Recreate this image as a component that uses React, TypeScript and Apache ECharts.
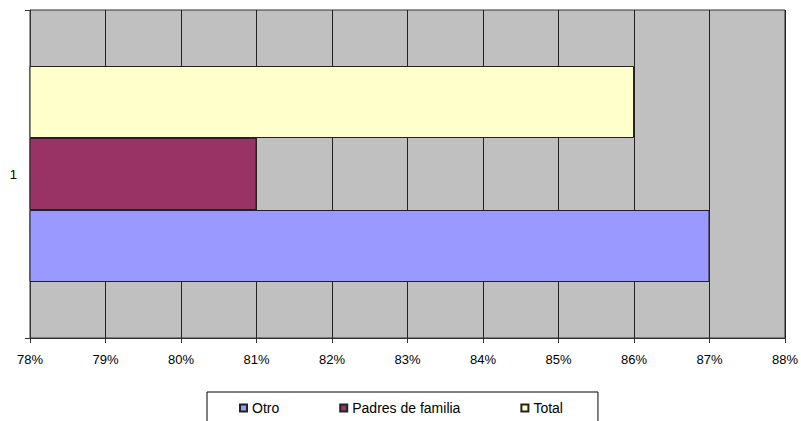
import React, { useEffect, useRef } from "react";
import * as echarts from "echarts";

const categories = ["1"];
const seriesNames = ["Otro", "Padres de familia", "Total"];
const otroValues = [87];
const padresValues = [81];
const totalValues = [86];
const colors = ["#9999FF", "#993366", "#FFFFCC"];
const xMin = 78;
const xMax = 88;

export default function App() {
  const ref = useRef<HTMLDivElement>(null);
  useEffect(() => {
    if (!ref.current) return;
    const chart = echarts.init(ref.current, null, { renderer: "svg" });
    const font = "'Liberation Sans', Arial, sans-serif";
    const dataSets = [otroValues, padresValues, totalValues];
    const series = seriesNames.map((name, i) => ({
      name,
      type: "bar",
      data: dataSets[i],
      barWidth: 72,
      barGap: "0%",
      itemStyle: { color: colors[i], borderColor: "#222", borderWidth: 1 },
    }));
    chart.setOption({
      animation: false,
      grid: {
        left: 30,
        right: 15,
        top: 10,
        bottom: 83,
        show: true,
        backgroundColor: "#C0C0C0",
        borderColor: "#333",
        borderWidth: 1,
      },
      xAxis: {
        type: "value",
        min: xMin,
        max: xMax,
        interval: 1,
        axisLine: { show: true, lineStyle: { color: "#333", width: 1 } },
        axisTick: { show: true, length: 5, lineStyle: { color: "#333" } },
        splitLine: { show: true, lineStyle: { color: "#222", width: 1 } },
        axisLabel: {
          formatter: "{value}%",
          color: "#000",
          fontFamily: font,
          fontSize: 13,
          margin: 15,
        },
      },
      yAxis: {
        type: "category",
        data: categories,
        axisLine: { show: true, lineStyle: { color: "#333", width: 1 } },
        axisTick: { show: true, length: 5, lineStyle: { color: "#333" } },
        axisLabel: { color: "#000", fontFamily: font, fontSize: 13, margin: 13 },
        splitLine: { show: false },
      },
      legend: {
        data: seriesNames,
        left: 207,
        top: 392,
        orient: "horizontal",
        backgroundColor: "#fff",
        borderColor: "#000",
        borderWidth: 1,
        borderRadius: 0,
        padding: [9, 35, 9, 32],
        itemGap: 60,
        itemWidth: 7,
        itemHeight: 7,
        icon: "rect",
        textStyle: { color: "#000", fontFamily: font, fontSize: 14 },
      },
      series: series.slice().reverse(),
    });
    return () => chart.dispose();
  }, []);
  return <div ref={ref} style={{ width: 801, height: 421, position: "absolute", left: 0, top: 0 }} />;
}
